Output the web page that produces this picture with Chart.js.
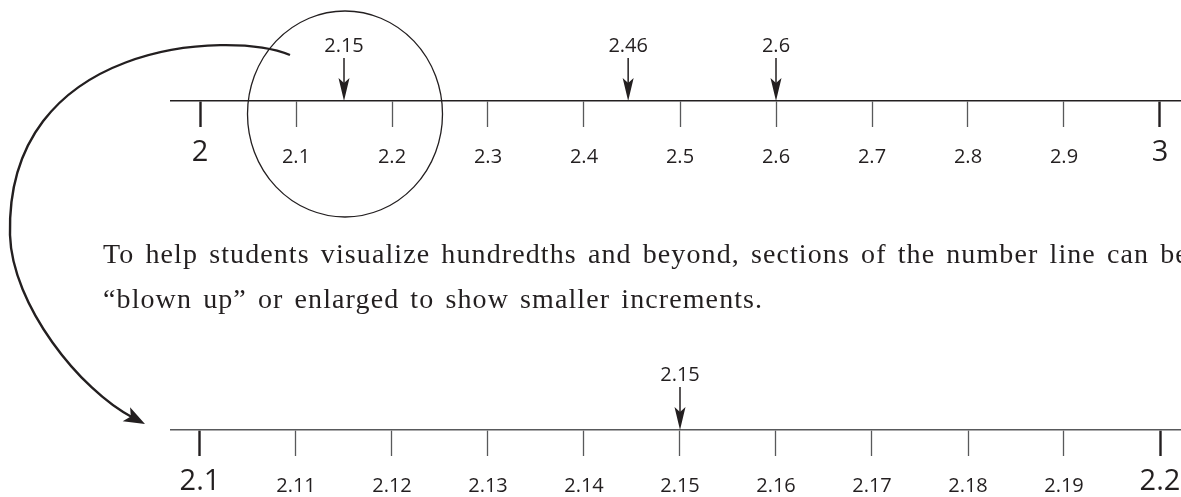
<!DOCTYPE html>
<html lang="en">
<head>
  <meta charset="UTF-8" />
  <title>Number line: tenths and hundredths</title>
  <script src="https://cdn.jsdelivr.net/npm/chart.js"></script>
  <style>
    html, body {
      margin: 0;
      padding: 0;
      background: #fff;
      width: 1181px;
      height: 497px;
      overflow: hidden;
    }
    canvas {
      position: absolute;
      left: 0;
      top: 0;
    }
    #texto {
      position: absolute;
      left: 103px;
      top: 231px;
      font-family: "Liberation Serif", serif;
      font-size: 28px;
      line-height: 45px;
      letter-spacing: 1.1px;
      word-spacing: 3px;
      color: #231f20;
      white-space: nowrap;
    }
  </style>
</head>
<body>
  <canvas id="linhaTopo" width="1240" height="497"></canvas>
  <canvas id="linhaZoom" width="1240" height="560"></canvas>
  <div id="texto">To help students visualize hundredths and beyond, sections of the number line can be<br>“blown up” or enlarged to show smaller increments.</div>

  <script>
    // top number line: 2 to 3 in tenths
    const topTicks = [2, 2.1, 2.2, 2.3, 2.4, 2.5, 2.6, 2.7, 2.8, 2.9, 3];
    const topTickLabels = ['2', '2.1', '2.2', '2.3', '2.4', '2.5', '2.6', '2.7', '2.8', '2.9', '3'];
    const topMarkers = [2.15, 2.446, 2.6];
    const topMarkerLabels = ['2.15', '2.46', '2.6'];

    // blown up section: 2.1 to 2.2 in hundredths
    const zoomTicks = [2.1, 2.11, 2.12, 2.13, 2.14, 2.15, 2.16, 2.17, 2.18, 2.19, 2.2];
    const zoomTickLabels = ['2.1', '2.11', '2.12', '2.13', '2.14', '2.15', '2.16', '2.17', '2.18', '2.19', '2.2'];
    const zoomMarkers = [2.15];
    const zoomMarkerLabels = ['2.15'];

    const ink = '#231f20';
    const grey = '#58595b';

    function drawMarkers(chart, values, labels) {
      const ctx = chart.ctx;
      const x = chart.scales.x;
      const y0 = chart.chartArea.bottom;
      ctx.save();
      ctx.fillStyle = ink;
      ctx.strokeStyle = ink;
      ctx.font = '20px "Open Sans"';
      ctx.textAlign = 'center';
      ctx.textBaseline = 'middle';
      values.forEach((v, i) => {
        const px = x.getPixelForValue(v);
        ctx.fillText(labels[i], px, y0 - 55);
        ctx.lineWidth = 1.5;
        ctx.beginPath();
        ctx.moveTo(px, y0 - 43);
        ctx.lineTo(px, y0 - 18);
        ctx.stroke();
        ctx.beginPath();
        ctx.moveTo(px, y0);
        ctx.lineTo(px - 5.5, y0 - 23);
        ctx.lineTo(px, y0 - 18);
        ctx.lineTo(px + 5.5, y0 - 23);
        ctx.closePath();
        ctx.fill();
      });
      ctx.restore();
    }

    // circle round the 2.1 - 2.2 section
    function drawCircle(chart) {
      const ctx = chart.ctx;
      const cx = chart.scales.x.getPixelForValue(2.15);
      const cy = chart.chartArea.bottom + 13;
      ctx.save();
      ctx.strokeStyle = ink;
      ctx.lineWidth = 1.3;
      ctx.beginPath();
      ctx.ellipse(cx + 1, cy, 97.5, 103, 0, 0, Math.PI * 2);
      ctx.stroke();
      ctx.restore();
    }

    // curved arrow from the circle down to the blown up line
    function drawCurve(chart) {
      const ctx = chart.ctx;
      const tipX = chart.scales.x.getPixelForValue(zoomTicks[0]) - 55;
      const tipY = chart.chartArea.bottom - 6;
      const c2x = 80, c2y = 390;
      const a = Math.atan2(tipY - c2y, tipX - c2x);
      const endX = tipX - 14 * Math.cos(a);
      const endY = tipY - 14 * Math.sin(a);
      ctx.save();
      ctx.strokeStyle = ink;
      ctx.fillStyle = ink;
      ctx.lineWidth = 2.4;
      ctx.beginPath();
      ctx.moveTo(290, 55);
      ctx.bezierCurveTo(230, 30, 5, 40, 10, 235);
      ctx.bezierCurveTo(12, 305, c2x, c2y, endX, endY);
      ctx.stroke();
      // arrow head
      ctx.translate(tipX, tipY);
      ctx.rotate(a);
      ctx.beginPath();
      ctx.moveTo(0, 0);
      ctx.lineTo(-21, -8);
      ctx.lineTo(-16, 0);
      ctx.lineTo(-21, 8);
      ctx.closePath();
      ctx.fill();
      ctx.restore();
    }

    function numberLine(id, ticks, tickLabels, markers, markerLabels, lineColor, bottomPad, extra) {
      const last = ticks.length - 1;
      const span = ticks[last] - ticks[0];
      const isEnd = i => i === 0 || i === last;
      return new Chart(document.getElementById(id), {
        type: 'scatter',
        data: { datasets: [] },
        options: {
          responsive: false,
          animation: false,
          events: [],
          layout: { padding: { left: 171, right: 0, top: 0, bottom: bottomPad } },
          plugins: {
            legend: { display: false },
            tooltip: { enabled: false }
          },
          scales: {
            x: {
              type: 'linear',
              position: 'bottom',
              min: ticks[0] - span * 29 / 960,
              max: ticks[last] + span * 80 / 960,
              afterBuildTicks: axis => {
                axis.ticks = ticks.map(v => ({ value: v }));
              },
              border: { display: true, color: lineColor, width: 1.6 },
              grid: {
                drawOnChartArea: false,
                drawTicks: true,
                tickLength: 26,
                tickColor: c => isEnd(c.index) ? ink : grey,
                tickWidth: c => isEnd(c.index) ? 2.4 : 1.3
              },
              ticks: {
                autoSkip: false,
                maxRotation: 0,
                padding: 8,
                color: ink,
                callback: (v, i) => tickLabels[i],
                font: c => isEnd(c.index)
                  ? { family: 'Open Sans', size: 29, lineHeight: 1.2 }
                  : { family: 'Open Sans', size: 20, lineHeight: 2.2 }
              }
            },
            y: { display: false }
          }
        },
        plugins: [{
          id: 'marcadores',
          afterDraw: chart => {
            drawMarkers(chart, markers, markerLabels);
            if (extra) extra(chart);
          }
        }]
      });
    }

    numberLine('linhaTopo', topTicks, topTickLabels, topMarkers, topMarkerLabels, ink, 310, drawCircle);
    numberLine('linhaZoom', zoomTicks, zoomTickLabels, zoomMarkers, zoomMarkerLabels, grey, 44, drawCurve);
  </script>
</body>
</html>
